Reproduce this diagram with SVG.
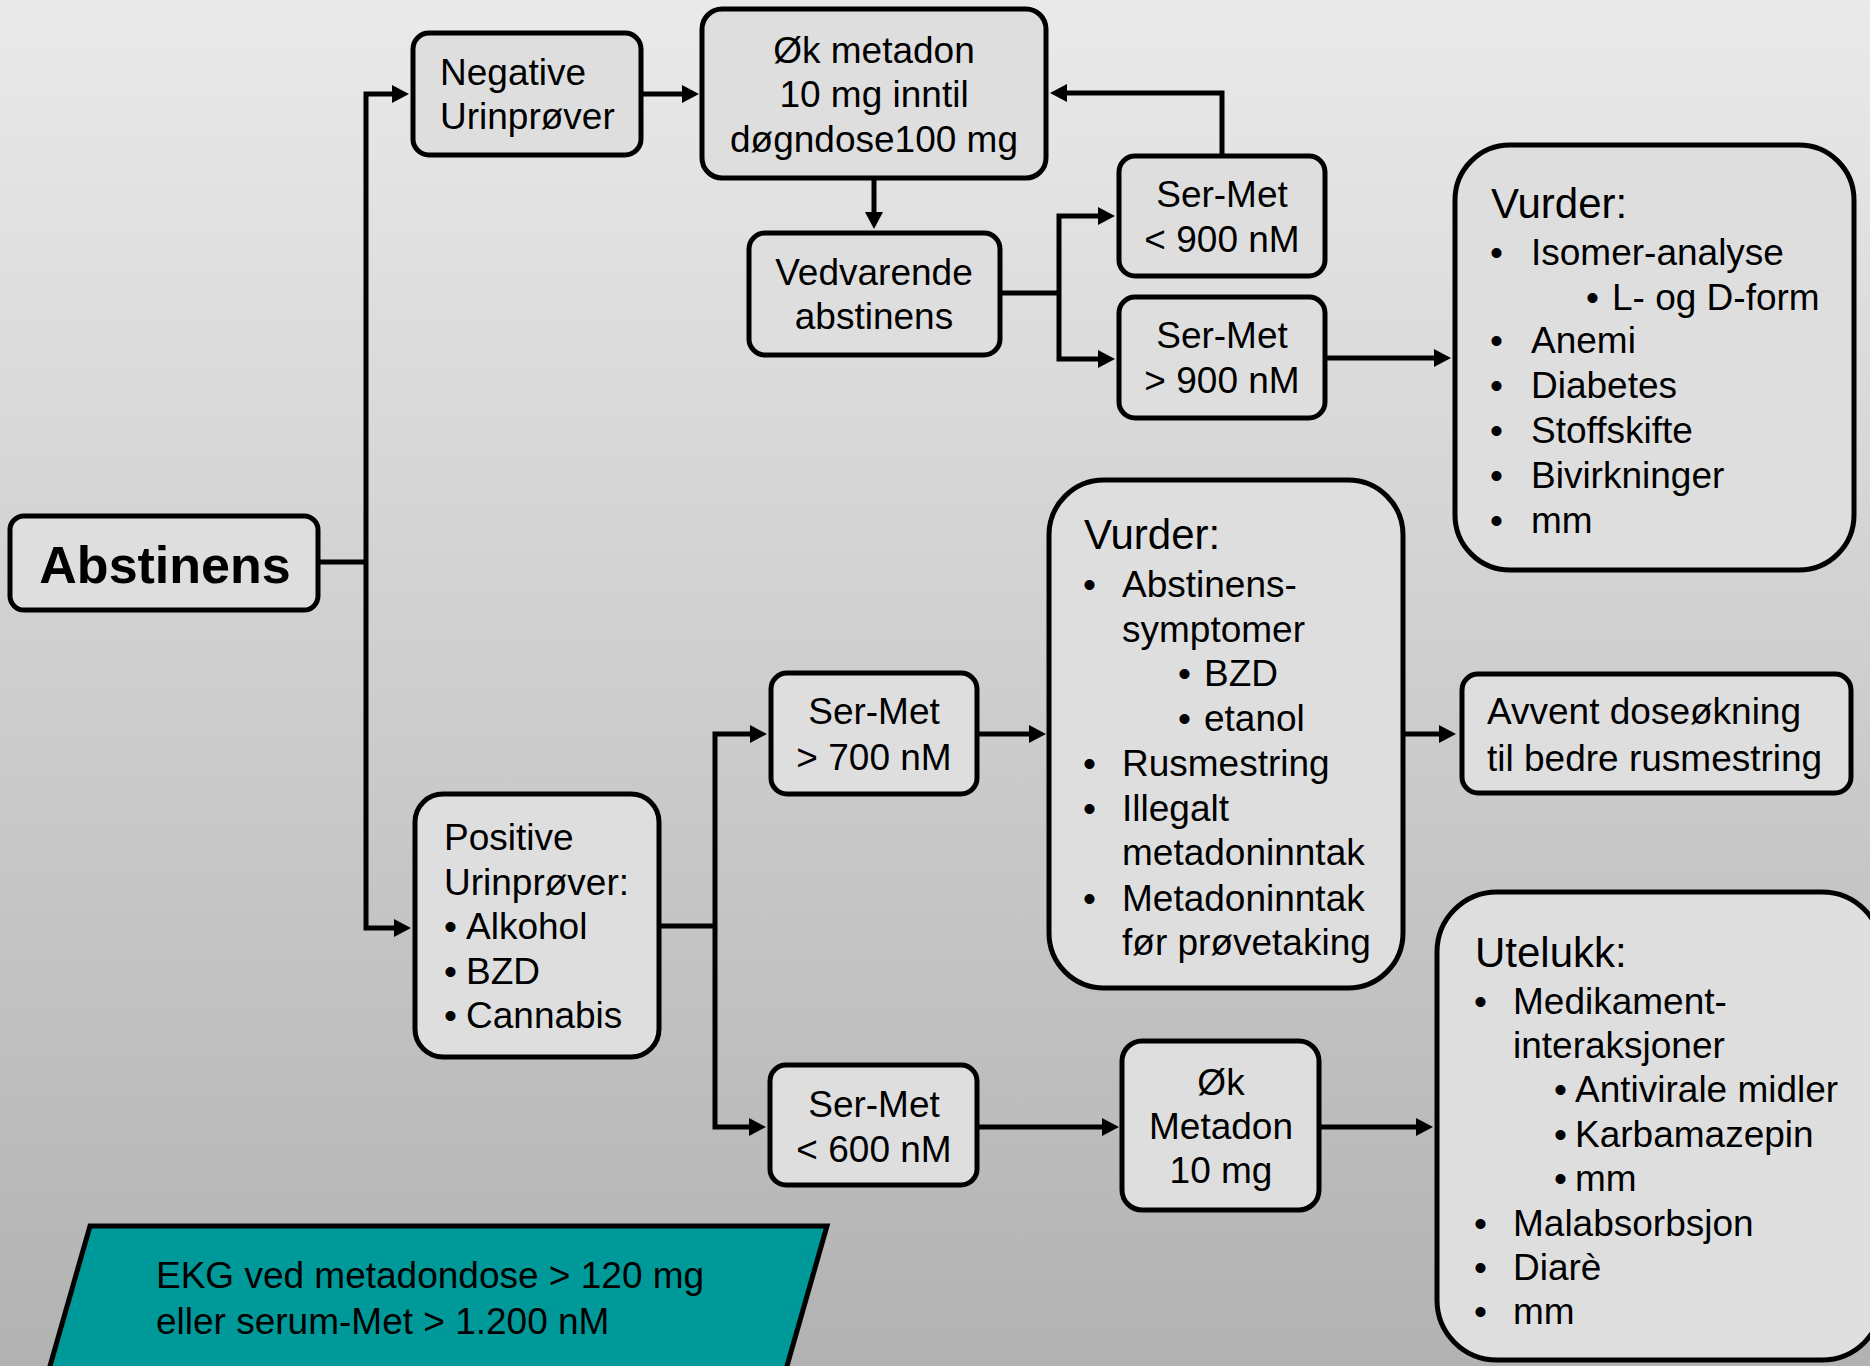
<svg xmlns="http://www.w3.org/2000/svg" width="1870" height="1366" viewBox="0 0 1870 1366">
<defs>
<linearGradient id="bg" x1="0" y1="0" x2="0" y2="1">
<stop offset="0" stop-color="#eaeaea"/>
<stop offset="1" stop-color="#b2b2b2"/>
</linearGradient>
<marker id="ah" markerUnits="userSpaceOnUse" markerWidth="20" markerHeight="20" refX="7" refY="9" orient="auto" overflow="visible">
<path d="M0,0 L17,9 L0,18 Z" fill="#000"/>
</marker>
<style>
.box{fill:#dedede;stroke:#000;stroke-width:5}
.t{font-family:"Liberation Sans",Arial,sans-serif;font-size:37px;fill:#000}
.h{font-size:42px}
.c{text-anchor:middle}
.b{font-weight:bold;font-size:52px}
.ln{fill:none;stroke:#000;stroke-width:5}
.ar{fill:none;stroke:#000;stroke-width:5;marker-end:url(#ah)}
</style>
</defs>
<rect x="0" y="0" width="1870" height="1366" fill="url(#bg)"/>

<g id="connectors">
<path class="ln" d="M320,562 H366"/>
<path class="ar" d="M366,562 V94 H399"/>
<path class="ar" d="M366,562 V928 H401"/>
<path class="ar" d="M643,94 H689"/>
<path class="ar" d="M874,180 V219"/>
<path class="ln" d="M1002,293 H1059"/>
<path class="ar" d="M1059,293 V216 H1105"/>
<path class="ar" d="M1059,293 V359 H1105"/>
<path class="ar" d="M1222,154 V93 H1060"/>
<path class="ar" d="M1327,358 H1441"/>
<path class="ln" d="M661,926 H715"/>
<path class="ar" d="M715,926 V734 H757"/>
<path class="ar" d="M715,926 V1127 H756"/>
<path class="ar" d="M979,734 H1036"/>
<path class="ar" d="M1405,734 H1446"/>
<path class="ar" d="M979,1127 H1109"/>
<path class="ar" d="M1321,1127 H1423"/>
</g>

<g id="abstinens">
<rect class="box" x="10" y="516" width="308" height="94" rx="14"/>
<text class="t b c" x="165" y="583">Abstinens</text>
</g>

<g id="negative">
<rect class="box" x="413" y="33" width="228" height="122" rx="16"/>
<text class="t" x="440" y="85">Negative</text>
<text class="t" x="440" y="129">Urinprøver</text>
</g>

<g id="ok-metadon">
<rect class="box" x="702" y="9" width="344" height="169" rx="20"/>
<text class="t c" x="874" y="63">Øk metadon</text>
<text class="t c" x="874" y="107">10 mg inntil</text>
<text class="t c" x="874" y="152">døgndose100 mg</text>
</g>

<g id="vedvarende">
<rect class="box" x="749" y="233" width="251" height="122" rx="16"/>
<text class="t c" x="874" y="285">Vedvarende</text>
<text class="t c" x="874" y="329">abstinens</text>
</g>

<g id="sermet-lt900">
<rect class="box" x="1119" y="156" width="206" height="120" rx="16"/>
<text class="t c" x="1222" y="207">Ser-Met</text>
<text class="t c" x="1222" y="252">&lt; 900 nM</text>
</g>

<g id="sermet-gt900">
<rect class="box" x="1119" y="297" width="206" height="121" rx="16"/>
<text class="t c" x="1222" y="348">Ser-Met</text>
<text class="t c" x="1222" y="393">&gt; 900 nM</text>
</g>

<g id="vurder-top">
<rect class="box" x="1455" y="145" width="399" height="425" rx="55"/>
<text class="t h" x="1491" y="218">Vurder:</text>
<text class="t" x="1490" y="265">•</text><text class="t" x="1531" y="265">Isomer-analyse</text>
<text class="t" x="1586" y="310">•</text><text class="t" x="1612" y="310">L- og D-form</text>
<text class="t" x="1490" y="353">•</text><text class="t" x="1531" y="353">Anemi</text>
<text class="t" x="1490" y="398">•</text><text class="t" x="1531" y="398">Diabetes</text>
<text class="t" x="1490" y="443">•</text><text class="t" x="1531" y="443">Stoffskifte</text>
<text class="t" x="1490" y="488">•</text><text class="t" x="1531" y="488">Bivirkninger</text>
<text class="t" x="1490" y="533">•</text><text class="t" x="1531" y="533">mm</text>
</g>

<g id="positive">
<rect class="box" x="415" y="794" width="244" height="263" rx="28"/>
<text class="t" x="444" y="850">Positive</text>
<text class="t" x="444" y="895">Urinprøver:</text>
<text class="t" x="444" y="939">•</text><text class="t" x="466" y="939">Alkohol</text>
<text class="t" x="444" y="984">•</text><text class="t" x="466" y="984">BZD</text>
<text class="t" x="444" y="1028">•</text><text class="t" x="466" y="1028">Cannabis</text>
</g>

<g id="sermet-gt700">
<rect class="box" x="771" y="673" width="206" height="121" rx="16"/>
<text class="t c" x="874" y="724">Ser-Met</text>
<text class="t c" x="874" y="770">&gt; 700 nM</text>
</g>

<g id="vurder-mid">
<rect class="box" x="1049" y="480" width="354" height="508" rx="55"/>
<text class="t h" x="1084" y="549">Vurder:</text>
<text class="t" x="1083" y="597">•</text><text class="t" x="1122" y="597">Abstinens-</text>
<text class="t" x="1122" y="642">symptomer</text>
<text class="t" x="1178" y="686">•</text><text class="t" x="1204" y="686">BZD</text>
<text class="t" x="1178" y="731">•</text><text class="t" x="1204" y="731">etanol</text>
<text class="t" x="1083" y="776">•</text><text class="t" x="1122" y="776">Rusmestring</text>
<text class="t" x="1083" y="821">•</text><text class="t" x="1122" y="821">Illegalt</text>
<text class="t" x="1122" y="865">metadoninntak</text>
<text class="t" x="1083" y="911">•</text><text class="t" x="1122" y="911">Metadoninntak</text>
<text class="t" x="1122" y="955">før prøvetaking</text>
</g>

<g id="avvent">
<rect class="box" x="1462" y="674" width="389" height="119" rx="16"/>
<text class="t" x="1487" y="724">Avvent doseøkning</text>
<text class="t" x="1487" y="771">til bedre rusmestring</text>
</g>

<g id="sermet-lt600">
<rect class="box" x="770" y="1065" width="207" height="120" rx="16"/>
<text class="t c" x="874" y="1117">Ser-Met</text>
<text class="t c" x="874" y="1162">&lt; 600 nM</text>
</g>

<g id="ok-metadon-10">
<rect class="box" x="1122" y="1041" width="197" height="169" rx="20"/>
<text class="t c" x="1221" y="1095">Øk</text>
<text class="t c" x="1221" y="1139">Metadon</text>
<text class="t c" x="1221" y="1183">10 mg</text>
</g>

<g id="utelukk">
<rect class="box" x="1437" y="892" width="445" height="468" rx="60"/>
<text class="t h" x="1475" y="967">Utelukk:</text>
<text class="t" x="1474" y="1014">•</text><text class="t" x="1513" y="1014">Medikament-</text>
<text class="t" x="1513" y="1058">interaksjoner</text>
<text class="t" x="1554" y="1102">•</text><text class="t" x="1575" y="1102">Antivirale midler</text>
<text class="t" x="1554" y="1147">•</text><text class="t" x="1575" y="1147">Karbamazepin</text>
<text class="t" x="1554" y="1191">•</text><text class="t" x="1575" y="1191">mm</text>
<text class="t" x="1474" y="1236">•</text><text class="t" x="1513" y="1236">Malabsorbsjon</text>
<text class="t" x="1474" y="1280">•</text><text class="t" x="1513" y="1280">Diarè</text>
<text class="t" x="1474" y="1324">•</text><text class="t" x="1513" y="1324">mm</text>
</g>

<g id="ekg">
<polygon points="90,1226 827,1226 783,1380 46,1380" fill="#009999" stroke="#000" stroke-width="5"/>
<text class="t" x="156" y="1288">EKG ved metadondose &gt; 120 mg</text>
<text class="t" x="156" y="1334">eller serum-Met &gt; 1.200 nM</text>
</g>
</svg>
